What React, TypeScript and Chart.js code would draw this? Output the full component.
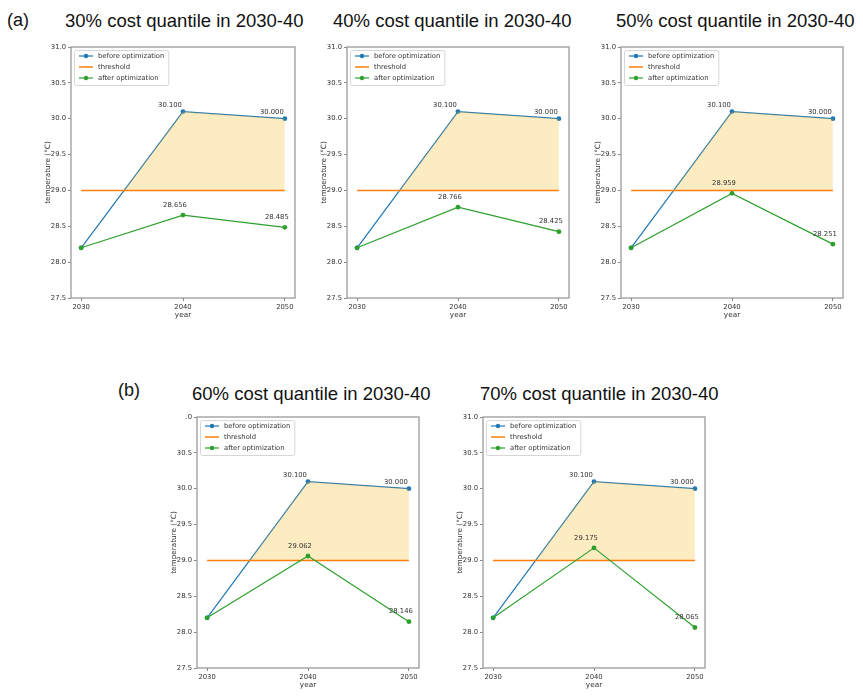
import React, { useEffect, useRef } from 'react';
import Chart from 'chart.js/auto';

// ---------- data ----------
const years = [2030, 2040, 2050];
const beforeOptimization = [28.2, 30.1, 30.0];
const thresholdValues = [29.0, 29.0, 29.0];
const after30 = [28.2, 28.656, 28.485];
const after40 = [28.2, 28.766, 28.425];
const after50 = [28.2, 28.959, 28.251];
const after60 = [28.2, 29.062, 28.146];
const after70 = [28.2, 29.175, 28.065];
const afterSeries = [after30, after40, after50, after60, after70];
const panelTitles = [
  '30% cost quantile in 2030-40',
  '40% cost quantile in 2030-40',
  '50% cost quantile in 2030-40',
  '60% cost quantile in 2030-40',
  '70% cost quantile in 2030-40',
];
const seriesNames = ['before optimization', 'threshold', 'after optimization'];
const labelledIndices = [1, 2];
const yMin = 27.5;
const yMax = 31.0;
const yStep = 0.5;
const xMin = 2029;
const xMax = 2051;
const xAxisTitle = 'year';
const yAxisTitle = 'temperature (°C)';

// ---------- style / layout ----------
const BLUE = '#1f77b4';
const ORANGE = '#ff7f0e';
const GREEN = '#2ca02c';
const FILL = 'rgba(248,190,50,0.30)';
const SMALL = 6.8;
const SMALL_FONT = `${SMALL}px "DejaVu Sans"`;
const TITLE_SMALL = 7.3;
const TEXT = '#333333';
const FRAME = '#9a9a9a';

// chart areas: [left, top, right, bottom]
const panelAreas = [
  [71, 47, 295, 298],
  [347, 47, 569, 298],
  [621, 47, 843, 298],
  [197, 417, 419, 668],
  [483, 417, 705, 668],
];
const titlePos = [
  [65, 11.5],
  [333, 11.5],
  [616, 11.5],
  [192, 384.5],
  [480, 384.5],
];
const topTickOverride: (string | null)[] = [null, null, null, '.0', null];

const PAD_L = 6, PAD_R = 10, PAD_T = 8, PAD_B = 4, Y_W = 27, X_H = 21;

const framePlugin = {
  id: 'frame',
  afterDatasetsDraw(chart: any) {
    const { ctx, chartArea: a } = chart;
    ctx.save();
    ctx.strokeStyle = FRAME;
    ctx.lineWidth = 1.3;
    ctx.strokeRect(a.left, a.top, a.right - a.left, a.bottom - a.top);
    ctx.restore();
  },
};

const valueLabelPlugin = {
  id: 'valueLabels',
  afterDraw(chart: any) {
    const { ctx } = chart;
    ctx.save();
    ctx.font = SMALL_FONT;
    ctx.fillStyle = TEXT;
    ctx.textAlign = 'center';
    ctx.textBaseline = 'middle';
    chart.data.datasets.forEach((ds: any, i: number) => {
      if (!ds.valueLabel) return;
      const meta = chart.getDatasetMeta(i);
      labelledIndices.forEach((j) => {
        const el = meta.data[j];
        const v = ds.data[j].y;
        ctx.fillText(v.toFixed(3), el.x + ds.valueLabel.dx, el.y + ds.valueLabel.dy);
      });
    });
    ctx.restore();
  },
};

const legendPlugin = {
  id: 'innerLegend',
  afterDraw(chart: any) {
    const { ctx, chartArea: a } = chart;
    const items = chart.data.datasets.filter((d: any) => d.legendKind);
    ctx.save();
    ctx.font = SMALL_FONT;
    const textX = a.left + 27;
    const maxW = Math.max(...items.map((d: any) => ctx.measureText(d.label).width));
    const bx = a.left + 3, by = a.top + 3;
    const bw = textX + maxW + 4 - bx, bh = 35;
    ctx.beginPath();
    (ctx as any).roundRect(bx + 0.5, by + 0.5, bw, bh, 2);
    ctx.fillStyle = 'rgba(255,255,255,0.85)';
    ctx.fill();
    ctx.strokeStyle = '#d6d6d6';
    ctx.lineWidth = 1;
    ctx.stroke();
    items.forEach((d: any, i: number) => {
      const y = by + 6 + i * 11;
      ctx.strokeStyle = d.borderColor;
      ctx.lineWidth = d.borderWidth;
      ctx.beginPath();
      ctx.moveTo(a.left + 8, y);
      ctx.lineTo(a.left + 22, y);
      ctx.stroke();
      if (d.legendKind === 'marker') {
        ctx.fillStyle = d.borderColor;
        ctx.beginPath();
        ctx.arc(a.left + 15, y, 2.2, 0, Math.PI * 2);
        ctx.fill();
      }
      ctx.fillStyle = TEXT;
      ctx.textAlign = 'left';
      ctx.textBaseline = 'middle';
      ctx.fillText(d.label, textX, y);
    });
    ctx.restore();
  },
};

const toPoints = (vals: number[]) => years.map((x, i) => ({ x, y: vals[i] }));

function Panel({ index }: { index: number }) {
  const ref = useRef<HTMLCanvasElement | null>(null);
  const [l, t, r, b] = panelAreas[index];
  const width = r - l + Y_W + PAD_L + PAD_R;
  const height = b - t + X_H + PAD_T + PAD_B;
  const left = l - Y_W - PAD_L;
  const top = t - PAD_T;

  useEffect(() => {
    if (!ref.current) return;
    const chart = new Chart(ref.current, {
      type: 'line',
      data: {
        datasets: [
          {
            label: seriesNames[0],
            data: toPoints(beforeOptimization),
            borderColor: BLUE,
            backgroundColor: BLUE,
            borderWidth: 1.2,
            pointRadius: 2.4,
            pointBorderWidth: 0,
            pointBackgroundColor: BLUE,
            fill: false,
            order: 4,
            legendKind: 'marker',
            valueLabel: { dx: -13, dy: -6 },
          } as any,
          {
            label: seriesNames[1],
            data: toPoints(thresholdValues),
            borderColor: ORANGE,
            backgroundColor: ORANGE,
            borderWidth: 1.5,
            pointRadius: 0,
            fill: false,
            order: 2,
            legendKind: 'line',
          } as any,
          {
            label: seriesNames[2],
            data: toPoints(afterSeries[index]),
            borderColor: GREEN,
            backgroundColor: GREEN,
            borderWidth: 1.2,
            pointRadius: 2.4,
            pointBorderWidth: 0,
            pointBackgroundColor: GREEN,
            fill: false,
            order: 1,
            legendKind: 'marker',
            valueLabel: { dx: -8, dy: -10 },
          } as any,
          {
            label: 'exceedance',
            data: toPoints(beforeOptimization),
            borderColor: 'rgba(0,0,0,0)',
            borderWidth: 0,
            pointRadius: 0,
            fill: { target: 1, above: FILL, below: 'rgba(0,0,0,0)' },
            order: 3,
          } as any,
        ],
      },
      options: {
        animation: false,
        responsive: false,
        maintainAspectRatio: false,
        events: [],
        layout: { padding: { left: PAD_L, right: PAD_R, top: PAD_T, bottom: PAD_B } },
        plugins: { legend: { display: false }, tooltip: { enabled: false }, title: { display: false } },
        scales: {
          x: {
            type: 'linear',
            min: xMin,
            max: xMax,
            afterBuildTicks: (s: any) => {
              s.ticks = years.map((v) => ({ value: v }));
            },
            afterFit: (s: any) => {
              s.height = X_H;
            },
            ticks: {
              callback: (v: any) => String(v),
              font: { family: 'DejaVu Sans', size: SMALL },
              color: TEXT,
              padding: 2,
              maxRotation: 0,
              autoSkip: false,
            },
            grid: { display: true, drawOnChartArea: false, drawTicks: true, tickLength: 3, color: '#888', lineWidth: 1 },
            border: { display: false },
            title: { display: true, text: xAxisTitle, font: { family: 'DejaVu Sans', size: TITLE_SMALL }, color: TEXT, padding: 0 },
          },
          y: {
            type: 'linear',
            min: yMin,
            max: yMax,
            afterFit: (s: any) => {
              s.width = Y_W;
            },
            ticks: {
              stepSize: yStep,
              callback: (v: any) => {
                const n = Number(v);
                if (Math.abs(n - yMax) < 1e-9 && topTickOverride[index]) return topTickOverride[index];
                return n.toFixed(1);
              },
              font: { family: 'DejaVu Sans', size: SMALL },
              color: TEXT,
              padding: 2,
              autoSkip: false,
            },
            grid: { display: true, drawOnChartArea: false, drawTicks: true, tickLength: 3, color: '#888', lineWidth: 1 },
            border: { display: false },
            title: { display: true, text: yAxisTitle, font: { family: 'DejaVu Sans', size: TITLE_SMALL }, color: TEXT, padding: 0 },
          },
        },
      } as any,
      plugins: [framePlugin, legendPlugin, valueLabelPlugin],
    });
    return () => chart.destroy();
  }, [index]);

  return (
    <canvas
      ref={ref}
      width={width}
      height={height}
      style={{ position: 'absolute', left, top, width, height }}
    />
  );
}

const titleStyle: React.CSSProperties = {
  position: 'absolute',
  fontFamily: '"Liberation Sans", Arial, sans-serif',
  fontSize: 18.5,
  lineHeight: '18px',
  whiteSpace: 'nowrap',
  color: '#111',
};

export default function App() {
  return (
    <div
      style={{
        position: 'absolute',
        left: 0,
        top: 0,
        width: 863,
        height: 697,
        background: '#fff',
        overflow: 'hidden',
      }}
    >
      <div style={{ ...titleStyle, left: 7, top: 10.5, fontSize: 18 }}>(a)</div>
      <div style={{ ...titleStyle, left: 118, top: 380.5, fontSize: 18 }}>(b)</div>
      {panelTitles.map((t, i) => (
        <div key={'t' + i} style={{ ...titleStyle, left: titlePos[i][0], top: titlePos[i][1] }}>
          {t}
        </div>
      ))}
      {panelAreas.map((_, i) => (
        <Panel key={i} index={i} />
      ))}
    </div>
  );
}
